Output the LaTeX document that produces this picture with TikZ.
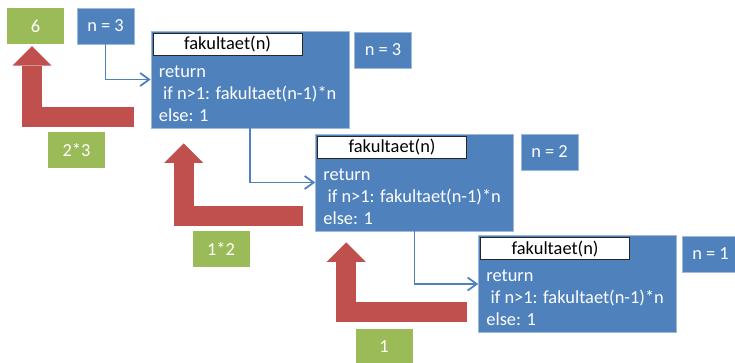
\documentclass[tikz,border=0pt]{standalone}
\usepackage{fontspec}
\setmainfont{Carlito}
\usetikzlibrary{arrows.meta}

\definecolor{callblue}{RGB}{79,129,189}
\definecolor{resgreen}{RGB}{155,187,89}
\definecolor{retred}{RGB}{192,80,77}

\tikzset{
  callbox/.style={rectangle, fill=callblue, draw=callblue!55!white, line width=0.6pt,
    minimum width=198pt, minimum height=97pt, inner sep=0pt},
  namebox/.style={rectangle, fill=white, draw=black!85, line width=0.8pt, text=black,
    minimum width=149pt, minimum height=22pt, inner sep=0pt, anchor=north west},
  codetext/.style={align=left, text=white, inner sep=0pt, anchor=base west},
  argbox/.style={rectangle, fill=callblue, draw=callblue!55!white, line width=0.6pt,
    text=white, minimum width=57pt, minimum height=36pt, inner sep=0pt},
  resbox/.style={rectangle, fill=resgreen, text=white,
    minimum width=57pt, minimum height=36pt, inner sep=0pt},
  callarrow/.style={draw=callblue, line width=1.8pt, -{Straight Barb[length=9pt,width=13pt]}},
  retarrow/.style={draw=retred, line width=20pt, -{Triangle[length=19.5pt,width=39pt,line width=0pt]}}
}

\begin{document}
\begin{tikzpicture}[x=1pt, y=-1pt, font=\fontsize{18.4}{22}\selectfont]
    \useasboundingbox (0,0) rectangle (735,362);

    % the three calls (code text hangs from its last baseline)
    \foreach \name/\pos in {f1/{(250,79.5)}, f2/{(414.5,182.5)}, f3/{(577.5,284)}} {
        \node[callbox] (\name) at \pos {};
        \node[namebox] (\name t) at ([shift={(2,2)}]\name.north west) {fakultaet(n)};
        \node[codetext] at ([shift={(8,90.5)}]\name.north west)
            {return\\\ if n>1: fakultaet(n-1)*n\\else: 1};
    }

    % arguments
    \node[argbox] (a3)  at (105.5,26) {n = 3};
    \node[argbox] (b3)  at (383,50)   {n = 3};
    \node[argbox] (b2)  at (549.5,152) {n = 2};
    \node[argbox] (b1)  at (710.5,254) {n = 1};

    % results
    \node[resbox] (r6)  at (35.5,26)  {6};
    \node[resbox] (r23) at (76.5,150) {2*3};
    \node[resbox] (r12) at (221,249)  {1*2};
    \node[resbox] (r1)  at (384,347)  {1};

    % calling down
    \draw[callarrow] (a3.south) |- (f1.west);
    \draw[callarrow] (f1.south) |- (f2.west);
    \draw[callarrow] (f2.south) |- (f3.west);

    % returning up
    \draw[retarrow] ([shift={(-17,-11.5)}]f1.south west) -| ([shift={(-3.5,2)}]r6.south);
    \draw[retarrow] ([shift={(-12,-15.5)}]f2.south west) -| ([shift={(33,15)}]f1.south west);
    \draw[retarrow] ([shift={(-11,-20.5)}]f3.south west) -| ([shift={(31,11)}]f2.south west);
\end{tikzpicture}
\end{document}
